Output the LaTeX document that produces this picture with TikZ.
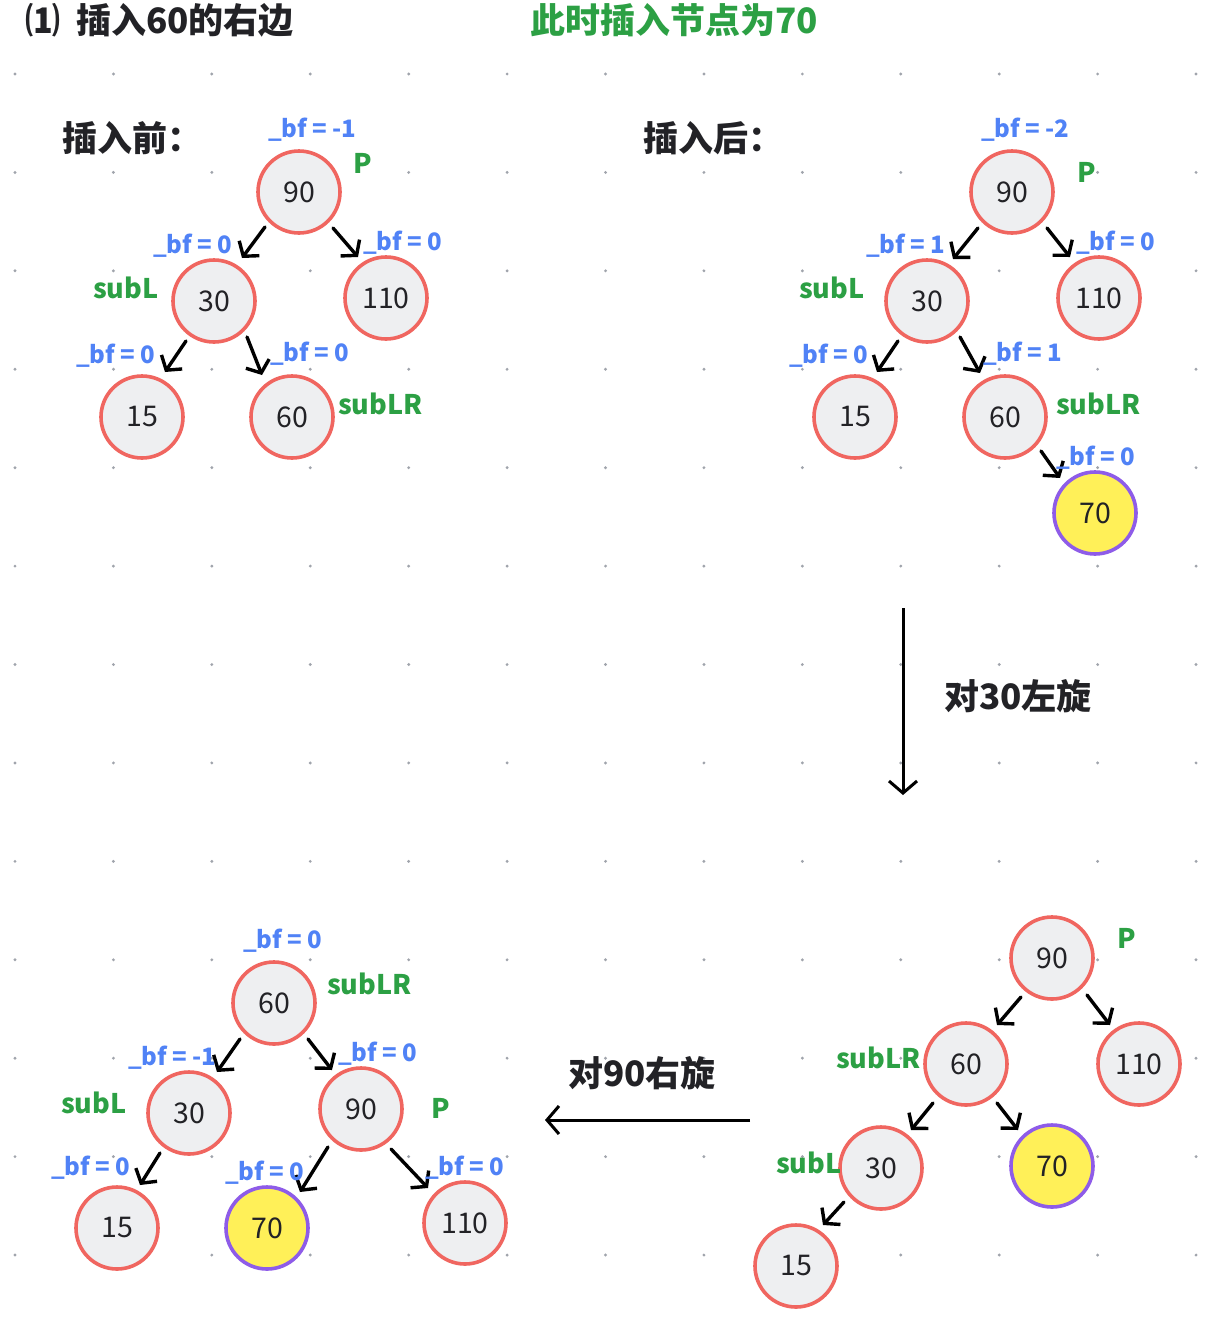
\documentclass[tikz,border=0pt]{standalone}
\usepackage{fontspec}
\setmainfont{Noto Sans CJK SC}
\usetikzlibrary{arrows.meta,calc}
\definecolor{ringred}{RGB}{240,102,96}
\definecolor{nodefill}{RGB}{238,239,241}
\definecolor{hiyellow}{RGB}{255,240,88}
\definecolor{hipurple}{RGB}{142,92,232}
\definecolor{bfblue}{RGB}{80,130,246}
\definecolor{tagreen}{RGB}{44,160,68}
\definecolor{darktext}{RGB}{34,34,38}
\definecolor{dotgray}{RGB}{160,164,172}
\begin{document}
\begin{tikzpicture}[x=1pt,y=-1pt,
  tnode/.style={circle,draw=ringred,fill=nodefill,line width=3.6pt,minimum size=82pt,inner sep=0pt,
    font=\fontsize{28.5}{30}\selectfont,text=darktext},
  newnode/.style={tnode,draw=hipurple,fill=hiyellow},
  bflab/.style={font=\bfseries\fontsize{24}{28}\selectfont,text=bfblue,inner sep=0pt,text height=0.72em,text depth=0.12em,yshift=-7pt},
  taglab/.style={font=\bfseries\fontsize{27}{30}\selectfont,text=tagreen,inner sep=0pt,text height=0.7em,text depth=0em,yshift=-7pt},
  headlab/.style={font=\bfseries\fontsize{35}{38}\selectfont,text=darktext,inner sep=0pt},
  arr/.style={line width=3.4pt,line cap=round,-{Straight Barb[length=10pt,width=25pt,line width=3.4pt]}},
  bigarr/.style={line width=3pt,-{Straight Barb[length=12pt,width=28pt,line width=3pt]}}
]
\useasboundingbox (0,0) rectangle (1217,1326);
\fill[white] (0,0) rectangle (1217,1326);
% dot grid
\foreach \i in {0,...,12}{
  \foreach \j in {0,...,12}{
    \fill[dotgray] ({15+98.42*\i},{74+98.42*\j}) circle (1.6pt);
  }
}
% headings
\node[headlab,anchor=west] (title) at (25,20) {\char"2474\hspace{16pt}插入60的右边};
\node[headlab,anchor=west,text=tagreen] (subtitle) at (530,20) {此时插入节点为70};
\node[headlab,anchor=west] (before) at (62,138) {插入前：};
\node[headlab,anchor=west] (after) at (643,138) {插入后：};
\node[headlab,anchor=west] (rotl) at (944,696) {对30左旋};
\node[headlab,anchor=west] (rotr) at (568,1073) {对90右旋};

% ---------- tree 1 (before) ----------
\node[tnode] (a90) at (299,192) {90};
\node[tnode] (a30) at (214,301) {30};
\node[tnode] (a110) at (386,298) {110};
\node[tnode] (a15) at (142,417) {15};
\node[tnode] (a60) at (292,417) {60};
\draw[arr] ($(a90)+(-34,35)$) -- ($(a30)+(28,-43)$);
\draw[arr] ($(a90)+(34,36)$) -- ($(a110)+(-28,-41)$);
\draw[arr] ($(a30)+(-28,40)$) -- ($(a15)+(23,-45)$);
\draw[arr] ($(a30)+(33,36)$) -- ($(a60)+(-30,-42)$);
\node[bflab,anchor=west] (abf90) at (268,127) {\_bf = -1};
\node[bflab,anchor=west] (abf30) at (153,243) {\_bf = 0};
\node[bflab,anchor=west] (abf110) at (363,240) {\_bf = 0};
\node[bflab,anchor=west] (abf15) at (76,353) {\_bf = 0};
\node[bflab,anchor=west] (abf60) at (270,351) {\_bf = 0};
\node[taglab,anchor=west] (aP) at (353,163) {P};
\node[taglab,anchor=west] (asubL) at (93,288) {subL};
\node[taglab,anchor=west] (asubLR) at (338,404) {subLR};

% ---------- tree 2 (after) ----------
\node[tnode] (b90) at (1012,192) {90};
\node[tnode] (b30) at (927,301) {30};
\node[tnode] (b110) at (1099,298) {110};
\node[tnode] (b15) at (855,417) {15};
\node[tnode] (b60) at (1005,417) {60};
\node[newnode] (b70) at (1095,513) {70};
\draw[arr] ($(b90)+(-34,36)$) -- ($(b30)+(26,-42)$);
\draw[arr] ($(b90)+(35,36)$) -- ($(b110)+(-29,-41)$);
\draw[arr] ($(b30)+(-29,40)$) -- ($(b15)+(22,-45)$);
\draw[arr] ($(b30)+(33,36)$) -- ($(b60)+(-25,-44)$);
\draw[arr] ($(b60)+(36,34)$) -- ($(b70)+(-35,-35)$);
\node[bflab,anchor=west] (bbf90) at (981,127) {\_bf = -2};
\node[bflab,anchor=west] (bbf30) at (866,243) {\_bf = 1};
\node[bflab,anchor=west] (bbf110) at (1076,240) {\_bf = 0};
\node[bflab,anchor=west] (bbf15) at (789,353) {\_bf = 0};
\node[bflab,anchor=west] (bbf60) at (983,351) {\_bf = 1};
\node[bflab,anchor=west] (bbf70) at (1056,455) {\_bf = 0};
\node[taglab,anchor=west] (bP) at (1077,172) {P};
\node[taglab,anchor=west] (bsubL) at (799,288) {subL};
\node[taglab,anchor=west] (bsubLR) at (1056,404) {subLR};

% ---------- rotation arrows ----------
\coordinate (vtop) at (903,608);
\coordinate (vbot) at (903,795);
\draw[bigarr] (vtop) -- (vbot);
\coordinate (hright) at (750,1120);
\coordinate (hleft) at (545,1120);
\draw[bigarr] (hright) -- (hleft);

% ---------- tree 3 (after left rotation at 30) ----------
\node[tnode] (c90) at (1052,958) {90};
\node[tnode] (c60) at (966,1064) {60};
\node[tnode] (c110) at (1139,1064) {110};
\node[tnode] (c30) at (881,1168) {30};
\node[newnode] (c70) at (1052,1166) {70};
\node[tnode] (c15) at (796,1266) {15};
\draw[arr] ($(c90)+(-31,39)$) -- ($(c60)+(31,-39)$);
\draw[arr] ($(c90)+(35,37)$) -- ($(c110)+(-29,-39)$);
\draw[arr] ($(c60)+(-33,39)$) -- ($(c30)+(30,-38)$);
\draw[arr] ($(c60)+(31,39)$) -- ($(c70)+(-34,-36)$);
\draw[arr] ($(c30)+(-37,34)$) -- ($(c15)+(27,-41)$);
\node[taglab,anchor=west] (cP) at (1117,938) {P};
\node[taglab,anchor=west] (csubLR) at (836,1058) {subLR};
\node[taglab,anchor=west] (csubL) at (776,1163) {subL};

% ---------- tree 4 (after right rotation at 90) ----------
\node[tnode] (d60) at (274,1003) {60};
\node[tnode] (d30) at (189,1113) {30};
\node[tnode] (d90) at (361,1109) {90};
\node[tnode] (d15) at (117,1228) {15};
\node[newnode] (d70) at (267,1228) {70};
\node[tnode] (d110) at (465,1223) {110};
\draw[arr] ($(d60)+(-34,36)$) -- ($(d30)+(28,-41)$);
\draw[arr] ($(d60)+(34,36)$) -- ($(d90)+(-29,-39)$);
\draw[arr] ($(d30)+(-29,40)$) -- ($(d15)+(23,-43)$);
\draw[arr] ($(d90)+(-33,38)$) -- ($(d70)+(33,-36)$);
\draw[arr] ($(d90)+(30,40)$) -- ($(d110)+(-37,-35)$);
\node[bflab,anchor=west] (dbf60) at (243,938) {\_bf = 0};
\node[bflab,anchor=west] (dbf30) at (128,1055) {\_bf = -1};
\node[bflab,anchor=west] (dbf90) at (338,1051) {\_bf = 0};
\node[bflab,anchor=west] (dbf15) at (51,1165) {\_bf = 0};
\node[bflab,anchor=west] (dbf70) at (225,1170) {\_bf = 0};
\node[bflab,anchor=west] (dbf110) at (425,1165) {\_bf = 0};
\node[taglab,anchor=west] (dsubLR) at (327,984) {subLR};
\node[taglab,anchor=west] (dsubL) at (61,1103) {subL};
\node[taglab,anchor=west] (dP) at (431,1108) {P};
\end{tikzpicture}
\end{document}
